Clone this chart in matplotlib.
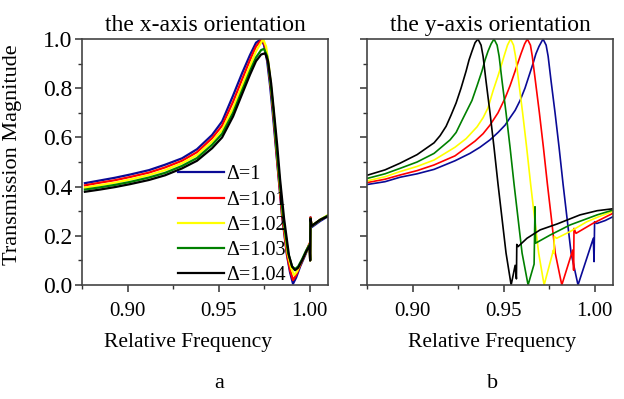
import matplotlib
matplotlib.use("Agg")
import matplotlib.pyplot as plt
from matplotlib.ticker import MultipleLocator

labels = ["Δ=1", "Δ=1.01", "Δ=1.02", "Δ=1.03", "Δ=1.04"]
colors = ["#0a0a96", "#ff0000", "#ffff00", "#008000", "#000000"]

# shared low-frequency part of the x-orientation curves
x_tail_f = [0.8766, 0.8849, 0.8931, 0.9014, 0.9118, 0.9206, 0.9299, 0.9381,
            0.9464, 0.9519, 0.9579, 0.9628, 0.9672, 0.9705]
spike_f = [0.9999, 1.0002, 1.0004, 1.0010, 1.0029, 1.0057, 1.0101]

# x-axis orientation
xa_f1 = x_tail_f + [0.9733, 0.9749, 0.9766, 0.9782, 0.9799, 0.9821, 0.9848, 0.9875,
                    0.9892, 0.9908, 0.9925, 0.9947, 0.9974] + spike_f
xa_t1 = [0.414, 0.425, 0.436, 0.449, 0.467, 0.489, 0.515, 0.552, 0.61, 0.665, 0.77,
         0.86, 0.935, 0.985, 1.0, 0.975, 0.91, 0.81, 0.68, 0.50, 0.28, 0.12, 0.05,
         0.005, 0.03, 0.075, 0.12, 0.165, 0.10, 0.275, 0.235, 0.245, 0.26, 0.28]

xa_f2 = x_tail_f + [0.9738, 0.9755, 0.9771, 0.9788, 0.9804, 0.9823, 0.9848, 0.9875,
                    0.9892, 0.9908, 0.9925, 0.9947, 0.9974] + spike_f
xa_t2 = [0.405, 0.416, 0.426, 0.439, 0.457, 0.478, 0.505, 0.540, 0.597, 0.648, 0.745,
         0.835, 0.915, 0.97, 1.0, 0.97, 0.90, 0.79, 0.66, 0.49, 0.285, 0.125, 0.06,
         0.02, 0.04, 0.08, 0.125, 0.17, 0.10, 0.275, 0.24, 0.25, 0.265, 0.283]

xa_f3 = x_tail_f + [0.9744, 0.9760, 0.9774, 0.9790, 0.9807, 0.9826, 0.9851, 0.9878,
                    0.9897, 0.9914, 0.9930, 0.9947, 0.9974] + spike_f
xa_t3 = [0.396, 0.406, 0.416, 0.429, 0.447, 0.467, 0.495, 0.528, 0.583, 0.630, 0.72,
         0.81, 0.89, 0.95, 1.0, 0.97, 0.90, 0.79, 0.66, 0.49, 0.29, 0.13, 0.07,
         0.04, 0.055, 0.085, 0.125, 0.165, 0.10, 0.27, 0.24, 0.25, 0.265, 0.285]

xa_f4 = x_tail_f + [0.9733, 0.9749, 0.9766, 0.9782, 0.9799, 0.9815, 0.9832, 0.9853,
                    0.9881, 0.9903, 0.9919, 0.9936, 0.9958, 0.9980] + spike_f
xa_t4 = [0.388, 0.397, 0.407, 0.419, 0.437, 0.456, 0.484, 0.516, 0.57, 0.615, 0.70,
         0.79, 0.87, 0.925, 0.955, 0.96, 0.93, 0.84, 0.72, 0.58, 0.44, 0.28, 0.13,
         0.075, 0.065, 0.075, 0.105, 0.14, 0.165, 0.10, 0.27, 0.24, 0.25, 0.265, 0.283]

xa_f5 = x_tail_f + [0.9733, 0.9755, 0.9771, 0.9788, 0.9804, 0.9821, 0.9837, 0.9859,
                    0.9886, 0.9903, 0.9919, 0.9936, 0.9958, 0.9980] + spike_f
xa_t5 = [0.379, 0.388, 0.398, 0.41, 0.427, 0.446, 0.474, 0.505, 0.556, 0.60, 0.685,
         0.775, 0.855, 0.91, 0.937, 0.942, 0.91, 0.82, 0.70, 0.57, 0.43, 0.27, 0.12,
         0.075, 0.06, 0.07, 0.10, 0.135, 0.16, 0.10, 0.27, 0.24, 0.25, 0.265, 0.28]

# y-axis orientation
ya_f1 = [0.8755, 0.8849, 0.8931, 0.9025, 0.9118, 0.9233, 0.9315, 0.9370, 0.9425,
         0.9469, 0.9508, 0.9535, 0.9563, 0.9590, 0.9617, 0.9639, 0.9661, 0.9677,
         0.9694, 0.9716, 0.9733, 0.9744, 0.9760, 0.9782, 0.9804, 0.9826, 0.9848,
         0.9870, 0.9908, 0.9992, 0.9996, 0.9999, 1.0011, 1.0057, 1.0101]
ya_t1 = [0.409, 0.42, 0.438, 0.452, 0.47, 0.505, 0.535, 0.56, 0.59, 0.62, 0.65, 0.68,
         0.71, 0.75, 0.80, 0.85, 0.90, 0.94, 0.97, 1.0, 0.975, 0.93, 0.83, 0.70,
         0.56, 0.41, 0.27, 0.13, 0.0, 0.19, 0.095, 0.257, 0.25, 0.262, 0.278]

ya_f2 = [0.8755, 0.8849, 0.8931, 0.9025, 0.9118, 0.9233, 0.9343, 0.9387, 0.9425,
         0.9469, 0.9508, 0.9535, 0.9563, 0.9595, 0.9615, 0.9630, 0.9647, 0.9657,
         0.9674, 0.9696, 0.9718, 0.9740, 0.9762, 0.9783, 0.9819, 0.9879, 0.9884,
         0.9886, 0.9897, 0.9991, 1.0101]
ya_t2 = [0.417, 0.43, 0.447, 0.465, 0.488, 0.525, 0.585, 0.615, 0.65, 0.70, 0.76,
         0.81, 0.87, 0.94, 0.98, 1.0, 0.975, 0.93, 0.83, 0.70, 0.56, 0.41, 0.27,
         0.13, 0.0, 0.142, 0.06, 0.23, 0.21, 0.251, 0.292]

ya_f3 = [0.8755, 0.8849, 0.8931, 0.9025, 0.9118, 0.9233, 0.9294, 0.9354, 0.9387,
         0.9414, 0.9442, 0.9469, 0.9490, 0.9502, 0.9521, 0.9538, 0.9554, 0.9565,
         0.9582, 0.9604, 0.9626, 0.9648, 0.9670, 0.9692, 0.9722, 0.9773, 0.9776,
         0.9778, 0.9791, 0.9864, 0.9956, 1.0013, 1.0101]
ya_t3 = [0.424, 0.44, 0.461, 0.482, 0.508, 0.56, 0.595, 0.643, 0.68, 0.72, 0.79,
         0.85, 0.90, 0.93, 0.975, 1.0, 0.975, 0.93, 0.83, 0.70, 0.56, 0.41, 0.27,
         0.13, 0.0, 0.142, 0.129, 0.197, 0.19, 0.217, 0.257, 0.275, 0.30]

ya_f4 = [0.8755, 0.8849, 0.8931, 0.9025, 0.9118, 0.9206, 0.9239, 0.9272, 0.9299,
         0.9326, 0.9354, 0.9381, 0.9398, 0.9414, 0.9431, 0.9447, 0.9464, 0.9475,
         0.9491, 0.9513, 0.9535, 0.9557, 0.9579, 0.9601, 0.9634, 0.9667, 0.9672,
         0.9675, 0.9755, 0.9864, 1.0013, 1.0101]
ya_t4 = [0.434, 0.452, 0.474, 0.50, 0.535, 0.59, 0.62, 0.67, 0.71, 0.75, 0.81, 0.87,
         0.915, 0.95, 0.98, 1.0, 0.975, 0.93, 0.83, 0.70, 0.56, 0.41, 0.27, 0.13,
         0.0, 0.085, 0.318, 0.17, 0.203, 0.244, 0.285, 0.305]

ya_f5 = [0.8755, 0.8849, 0.8931, 0.9025, 0.9118, 0.9151, 0.9184, 0.9211, 0.9239,
         0.9266, 0.9294, 0.9310, 0.9326, 0.9343, 0.9359, 0.9376, 0.9387, 0.9403,
         0.9425, 0.9447, 0.9469, 0.9491, 0.9513, 0.9541, 0.9563, 0.9570, 0.9572,
         0.9579, 0.9628, 0.9700, 0.9793, 0.9919, 1.0013, 1.0101]
ya_t5 = [0.447, 0.468, 0.495, 0.530, 0.578, 0.607, 0.645, 0.69, 0.74, 0.80, 0.87,
         0.915, 0.95, 0.985, 1.0, 0.975, 0.93, 0.83, 0.70, 0.56, 0.41, 0.27, 0.13,
         0.0, 0.08, 0.025, 0.165, 0.156, 0.19, 0.224, 0.248, 0.285, 0.302, 0.31]

x_curves = [(xa_f1, xa_t1), (xa_f2, xa_t2), (xa_f3, xa_t3), (xa_f4, xa_t4), (xa_f5, xa_t5)]
y_curves = [(ya_f1, ya_t1), (ya_f2, ya_t2), (ya_f3, ya_t3), (ya_f4, ya_t4), (ya_f5, ya_t5)]

plt.rcParams["font.family"] = ["Liberation Serif", "DejaVu Serif"]

fig = plt.figure(figsize=(6.24, 3.99), dpi=100)
ax = fig.add_axes([82 / 624, 114 / 399, 246 / 624, 246 / 399])
bx = fig.add_axes([367 / 624, 114 / 399, 246 / 624, 246 / 399])

for (f, t), c, lab in zip(x_curves, colors, labels):
    ax.plot(f, t, color=c, lw=1.6, label=lab)
for (f, t), c in zip(y_curves, colors):
    bx.plot(f, t, color=c, lw=1.2)

for a in (ax, bx):
    a.set_xlim(0.875, 1.01)
    a.set_ylim(0, 1.0)
    a.xaxis.set_major_locator(MultipleLocator(0.05))
    a.xaxis.set_minor_locator(MultipleLocator(0.025))
    a.yaxis.set_major_locator(MultipleLocator(0.2))
    a.yaxis.set_minor_locator(MultipleLocator(0.1))
    a.tick_params(which="major", direction="out", length=5, width=1.1, color="#333333")
    a.tick_params(which="minor", direction="out", length=3, width=1.0, color="#333333")
    a.tick_params(axis="x", labelsize=15, pad=7)
    a.tick_params(axis="y", labelsize=17, pad=2)
    a.set_xticks([0.90, 0.95, 1.00])
    a.set_xticklabels(["0.90", "0.95", "1.00"])
    for s in a.spines.values():
        s.set_color("#444444")
        s.set_linewidth(1.2)
    a.set_xlabel("Relative Frequency", fontsize=15.5)

ax.xaxis.set_label_coords(0.431, -0.232)
bx.xaxis.set_label_coords(0.508, -0.232)
ax.xaxis.label.set_va("center")
bx.xaxis.label.set_va("center")

ax.set_yticks([0.0, 0.2, 0.4, 0.6, 0.8, 1.0])
ax.set_yticklabels(["0.0", "0.2", "0.4", "0.6", "0.8", "1.0"])
bx.tick_params(axis="y", labelleft=False)

ax.set_ylabel("Transmission Magnitude", fontsize=16)
ax.yaxis.set_label_coords(-60 / 246, 0.528)
ax.set_title("the x-axis orientation", fontsize=17, pad=6)
bx.set_title("the y-axis orientation", fontsize=17, pad=6)

ax.legend(loc="lower left", bbox_to_anchor=(0.39, 0.0), frameon=False,
          fontsize=14.5, handlelength=2.3, handletextpad=0.1, labelspacing=0.3,
          borderpad=0.0, borderaxespad=0.0)

fig.text(219 / 624, 1 - 384 / 399, "a", ha="center", va="center", fontsize=16)
fig.text(493 / 624, 1 - 384 / 399, "b", ha="center", va="center", fontsize=16)

fig.savefig("out.png", dpi=100)
